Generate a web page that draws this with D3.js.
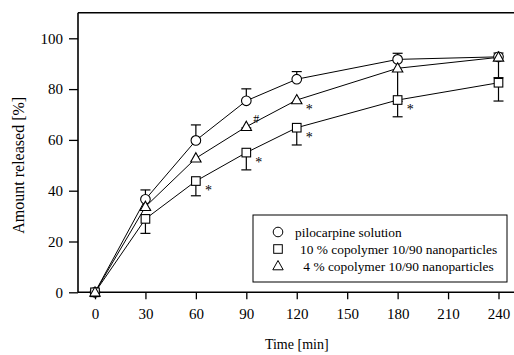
<!DOCTYPE html>
<html>
<head>
<meta charset="utf-8">
<script src="https://cdn.jsdelivr.net/npm/d3@7"></script>
<style>
  body { margin: 0; background: #fff; }
  svg { display: block; }
  text { font-family: "Liberation Serif", "Times New Roman", serif; fill: #000; }
</style>
</head>
<body>
<svg id="chart" width="514" height="355"></svg>
<script>
// Data
const times = [0, 30, 60, 90, 120, 180, 240];
const xTicks = [0, 30, 60, 90, 120, 150, 180, 210, 240];
const yTicks = [0, 20, 40, 60, 80, 100];

const solution = [0, 36.6, 59.8, 75.4, 83.9, 91.7, 92.7];
const solutionErr = [0, 3.7, 6.1, 4.7, 3.0, 2.4, 1.5];      // drawn upwards
const copo10 = [0, 28.9, 43.8, 55.0, 64.8, 75.7, 82.5];
const copo10Err = [0, 5.7, 5.8, 6.8, 6.8, 6.6, 7.2];         // drawn downwards
const copo4 = [0, 33.7, 52.8, 65.2, 75.7, 88.2, 92.5];
const copo4Err = [0, 1, 1, 0.5, 1, 13, 8];                  // drawn downwards

const legendLabels = ["pilocarpine solution", "10 % copolymer 10/90 nanoparticles", "\u00a04 % copolymer 10/90 nanoparticles"];

// significance marks: [series, time, symbol]
const marks = [
  ["copo10", 60, "*"], ["copo10", 90, "*"], ["copo10", 120, "*"], ["copo10", 180, "*"],
  ["copo4", 90, "#"], ["copo4", 120, "*"]
];

const svg = d3.select("#chart");
const x = d3.scaleLinear().domain([0, 240]).range([95, 498.5]);
const y = d3.scaleLinear().domain([0, 100]).range([292.3, 38.3]);
const frameL = 78, frameR = 514, frameT = 12.7, frameB = y(0);

// frame
svg.append("line").attr("x1", frameL).attr("x2", frameR).attr("y1", frameT).attr("y2", frameT)
  .attr("stroke", "#000").attr("stroke-width", 1.6);
svg.append("line").attr("x1", frameL).attr("x2", frameL).attr("y1", frameT).attr("y2", frameB)
  .attr("stroke", "#000").attr("stroke-width", 1.6);
svg.append("line").attr("x1", frameL).attr("x2", frameR).attr("y1", frameB).attr("y2", frameB)
  .attr("stroke", "#000").attr("stroke-width", 1.6);

// axes
const gx = svg.append("g").attr("transform", `translate(0,${frameB})`)
  .call(d3.axisBottom(x).tickValues(xTicks).tickSize(7).tickPadding(9).tickSizeOuter(0));
const gy = svg.append("g").attr("transform", `translate(${frameL},0)`)
  .call(d3.axisLeft(y).tickValues(yTicks).tickSize(9).tickPadding(6).tickSizeOuter(0));
[gx, gy].forEach(g => {
  g.attr("font-family", null).attr("font-size", null);
  g.select(".domain").remove();
  g.selectAll("line").attr("stroke", "#000").attr("stroke-width", 1.3);
  g.selectAll("text").attr("fill", "#000").style("font-size", "15px");
});

svg.append("text").attr("x", (x(90) + x(150)) / 2).attr("y", 349)
  .attr("text-anchor", "middle").style("font-size", "14px").text("Time [min]");
svg.append("text").attr("transform", `translate(24,${y(50)}) rotate(-90)`)
  .attr("text-anchor", "middle").style("font-size", "16px").text("Amount released [%]");

const series = [
  {key: "solution", vals: solution, err: solutionErr, dir: 1, shape: "circle"},
  {key: "copo10", vals: copo10, err: copo10Err, dir: -1, shape: "square"},
  {key: "copo4", vals: copo4, err: copo4Err, dir: -1, shape: "triangle"}
];

const line = d3.line().x((d, i) => x(times[i])).y(d => y(d));
series.forEach(s => {
  svg.append("path").attr("d", line(s.vals)).attr("fill", "none")
    .attr("stroke", "#000").attr("stroke-width", 1);
});

// error bars (one-sided)
series.forEach(s => {
  const g = svg.append("g").attr("stroke", "#000").attr("stroke-width", 1.2);
  s.vals.forEach((v, i) => {
    if (!s.err[i]) return;
    const ye = y(v + s.dir * s.err[i]);
    g.append("line").attr("x1", x(times[i])).attr("x2", x(times[i])).attr("y1", y(v)).attr("y2", ye);
    g.append("line").attr("x1", x(times[i]) - 5).attr("x2", x(times[i]) + 5).attr("y1", ye).attr("y2", ye);
  });
});

function drawSymbol(g, shape, cx, cy) {
  if (shape === "circle") {
    g.append("circle").attr("cx", cx).attr("cy", cy).attr("r", 4.8);
  } else if (shape === "square") {
    g.append("rect").attr("x", cx - 4.3).attr("y", cy - 4.3).attr("width", 8.6).attr("height", 8.6);
  } else {
    g.append("path").attr("d", `M${cx},${cy - 5.5}L${cx + 5.2},${cy + 3.8}L${cx - 5.2},${cy + 3.8}Z`);
  }
}

series.forEach(s => {
  const g = svg.append("g").attr("fill", "#fff").attr("stroke", "#000").attr("stroke-width", 1.1);
  s.vals.forEach((v, i) => drawSymbol(g, s.shape, x(times[i]), y(v)));
});

// significance marks
const byKey = Object.fromEntries(series.map(s => [s.key, s]));
marks.forEach(([k, t, sym]) => {
  const v = byKey[k].vals[times.indexOf(t)];
  const isHash = sym === "#";
  svg.append("text")
    .attr("x", x(t) + (isHash ? 7 : 9))
    .attr("y", y(v) + (isHash ? -4 : 14))
    .style("font-size", isHash ? "12px" : "14px")
    .text(sym);
});

// legend
const lg = svg.append("g");
lg.append("rect").attr("x", 253).attr("y", 215).attr("width", 254).attr("height", 67)
  .attr("fill", "#fff").attr("stroke", "#000").attr("stroke-width", 1);
series.forEach((s, i) => {
  const cy = 232 + i * 17;
  const g = lg.append("g").attr("fill", "#fff").attr("stroke", "#000").attr("stroke-width", 1);
  drawSymbol(g, s.shape, 278, cy);
  lg.append("text").attr("x", i === 0 ? 295 : 300).attr("y", cy + 4.5)
    .style("font-size", "13.4px").text(legendLabels[i]);
});
</script>
</body>
</html>
